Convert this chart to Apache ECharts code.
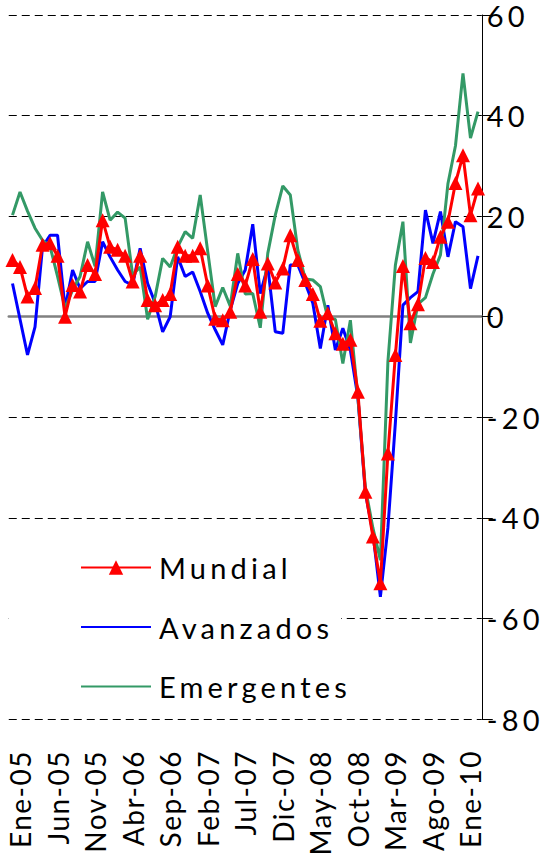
<!DOCTYPE html>
<html>
<head>
<meta charset="utf-8">
<script src="https://cdn.jsdelivr.net/npm/echarts@6/dist/echarts.min.js"></script>
<style>
  html, body { margin: 0; padding: 0; background: #fff; }
  #chart { width: 558px; height: 856px; }
  /* Excel-like wide character spacing */
  #chart text { letter-spacing: 4.2px; }
  /* rotated month labels are a bit tighter */
  #chart text[transform^="matrix"] { letter-spacing: 1.5px; }
</style>
</head>
<body>
<div id="chart"></div>
<script>
// monthly categories, Dic-04 .. Feb-10
const categories = [
  "Dic-04",
  "Ene-05", "Feb-05", "Mar-05", "Abr-05", "May-05", "Jun-05", "Jul-05", "Ago-05", "Sep-05", "Oct-05", "Nov-05", "Dic-05",
  "Ene-06", "Feb-06", "Mar-06", "Abr-06", "May-06", "Jun-06", "Jul-06", "Ago-06", "Sep-06", "Oct-06", "Nov-06", "Dic-06",
  "Ene-07", "Feb-07", "Mar-07", "Abr-07", "May-07", "Jun-07", "Jul-07", "Ago-07", "Sep-07", "Oct-07", "Nov-07", "Dic-07",
  "Ene-08", "Feb-08", "Mar-08", "Abr-08", "May-08", "Jun-08", "Jul-08", "Ago-08", "Sep-08", "Oct-08", "Nov-08", "Dic-08",
  "Ene-09", "Feb-09", "Mar-09", "Abr-09", "May-09", "Jun-09", "Jul-09", "Ago-09", "Sep-09", "Oct-09", "Nov-09", "Dic-09",
  "Ene-10", "Feb-10"
];

const mundial = [
  11.3, 9.9, 4.0, 5.7, 14.3, 14.6, 12.1, 0.0, 6.3, 5.0,
  10.3, 8.5, 19.2, 13.9, 13.3, 12.1, 7.0, 12.1, 3.3, 2.3,
  3.3, 4.5, 13.9, 12.1, 12.1, 13.6, 6.2, -0.4, -0.7, 1.0,
  8.5, 6.2, 11.5, 1.0, 10.6, 6.8, 9.6, 16.2, 11.3, 7.3,
  4.5, -0.8, 0.7, -3.3, -5.4, -4.6, -14.9, -34.8, -43.7, -53.0,
  -27.2, -7.6, 10.1, -1.3, 2.5, 11.7, 10.9, 15.9, 18.9, 26.6,
  32.1, 20.2, 25.5
];

const avanzados = [
  6.6, -0.5, -7.6, -2.0, 13.9, 16.2, 16.2, 1.7, 9.3, 5.6,
  7.0, 7.0, 14.9, 11.9, 9.3, 7.0, 6.3, 13.6, 6.6, 2.7,
  -3.0, 0.0, 11.9, 8.0, 8.9, 5.0, 0.7, -2.6, -5.6, 1.3,
  6.6, 9.3, 18.4, 4.6, 10.0, -3.0, -3.3, 10.3, 10.3, 6.6,
  2.7, -6.3, 2.3, -6.6, -2.3, -6.6, -16.0, -35.0, -43.0, -55.7,
  -42.0, -21.0, 2.3, 3.8, 5.0, 21.2, 14.6, 20.9, 11.9, 18.9,
  17.9, 5.6, 12.1
];

const emergentes = [
  20.2, 24.8, 21.0, 17.6, 15.2, 14.0, 8.0, 1.7, 5.3, 8.0,
  14.9, 10.0, 24.8, 19.2, 20.8, 19.6, 8.3, 9.9, -0.5, 4.0,
  11.6, 9.9, 13.9, 16.9, 15.6, 24.2, 13.0, 2.0, 5.8, 2.1,
  12.6, 4.5, 4.6, -2.2, 12.6, 20.2, 26.0, 24.2, 13.3, 7.5,
  7.3, 6.0, -0.3, -0.5, -9.3, -0.7, -16.0, -34.0, -42.0, -48.4,
  -9.0, 10.3, 18.9, -5.2, 2.5, 3.8, 8.5, 12.3, 26.5, 34.0,
  48.4, 35.5, 40.8
];

const yMin = -80;
const yMax = 60;
const yStep = 20;

const font = "Lato";
const fontSize = 29;
// a label (and tick) every 5 months, starting at Ene-05
const everyFive = (index) => index % 5 === 1;

const gridBox = {
  left: 8.75,
  right: 76.25,
  top: 15,
  bottom: 137,
  containLabel: false,
  outerBoundsMode: "none"
};

const chart = echarts.init(document.getElementById("chart"), null, { renderer: "svg" });

chart.setOption({
  animation: false,
  backgroundColor: "#fff",
  // grid 0 holds the series, grid 1 only carries the bottom labels
  grid: [Object.assign({}, gridBox), Object.assign({}, gridBox)],
  legend: {
    orient: "vertical",
    left: 9,
    top: 533,
    data: [
      { name: "Mundial" },
      { name: "Avanzados", itemStyle: { opacity: 0 } },
      { name: "Emergentes", itemStyle: { opacity: 0 } }
    ],
    itemWidth: 70,
    itemHeight: 18,
    itemGap: 30.5,
    backgroundColor: "#fff",
    padding: [20, 32, 12, 71],
    textStyle: {
      fontSize: fontSize,
      fontFamily: font,
      color: "#000",
      padding: [0, 0, 0, 3]
    }
  },
  xAxis: [
    {
      type: "category",
      gridIndex: 0,
      data: categories,
      boundaryGap: true,
      axisLine: { onZero: true, lineStyle: { color: "#808080", width: 2.5 } },
      axisTick: {
        interval: everyFive,
        length: 10,
        lineStyle: { color: "#404040", width: 1.5 }
      },
      axisLabel: { show: false },
      splitLine: { show: false }
    },
    {
      type: "category",
      gridIndex: 1,
      data: categories,
      boundaryGap: true,
      position: "bottom",
      axisLine: { show: false, onZero: false },
      axisTick: { show: false },
      axisLabel: {
        interval: everyFive,
        rotate: 90,
        margin: 31,
        fontSize: 28,
        fontFamily: font,
        color: "#000"
      },
      splitLine: { show: false }
    }
  ],
  yAxis: [
    {
      type: "value",
      gridIndex: 0,
      position: "right",
      min: yMin,
      max: yMax,
      interval: yStep,
      axisLine: { show: true, lineStyle: { color: "#000", width: 1 } },
      axisTick: { show: true, length: 11, lineStyle: { color: "#000", width: 1 } },
      axisLabel: {
        margin: 5,
        fontSize: fontSize,
        fontFamily: font,
        color: "#000",
        padding: [20, 0, 0, 0]
      },
      splitLine: { lineStyle: { color: "#000", type: [8, 5], width: 1 } }
    },
    {
      type: "value",
      gridIndex: 1,
      min: yMin,
      max: yMax,
      interval: yStep,
      show: false
    }
  ],
  series: [
    {
      name: "Avanzados",
      type: "line",
      data: avanzados,
      symbol: "none",
      lineStyle: { color: "#0000ff", width: 3 },
      itemStyle: { color: "#0000ff" },
      z: 2
    },
    {
      name: "Emergentes",
      type: "line",
      data: emergentes,
      symbol: "none",
      lineStyle: { color: "#339966", width: 3 },
      itemStyle: { color: "#339966" },
      z: 3
    },
    {
      name: "Mundial",
      type: "line",
      data: mundial,
      symbol: "triangle",
      symbolSize: 14,
      showAllSymbol: true,
      lineStyle: { color: "#ff0000", width: 3 },
      itemStyle: { color: "#ff0000" },
      z: 4
    }
  ]
});
</script>
</body>
</html>
